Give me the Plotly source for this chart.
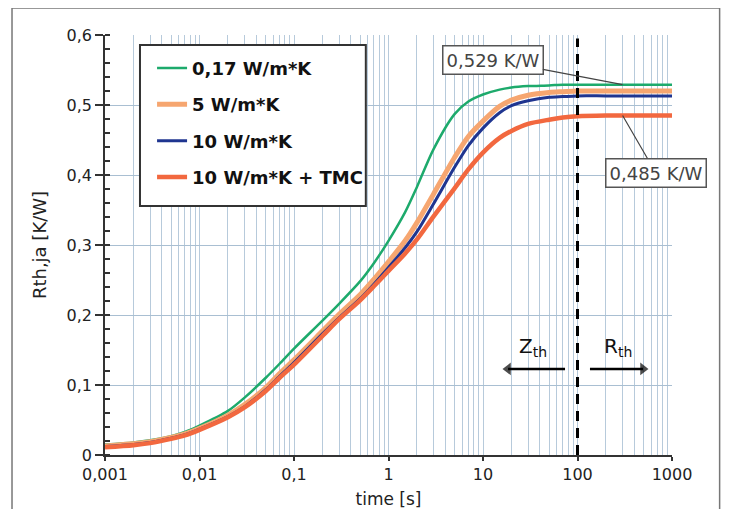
import math
import plotly.graph_objects as go

# ---- data ----
time_s = [0.001, 0.002, 0.003, 0.005, 0.007, 0.01, 0.02, 0.03, 0.05, 0.07, 0.1, 0.2, 0.3, 0.5, 0.7,
          1, 1.5, 2, 3, 5, 7, 10, 15, 20, 30, 50, 70, 100, 200, 500, 1000]
r_017 = [0.015, 0.018, 0.021, 0.027, 0.033, 0.042, 0.063, 0.082, 0.110, 0.130, 0.152, 0.192, 0.216, 0.248, 0.274,
         0.306, 0.347, 0.383, 0.437, 0.487, 0.505, 0.515, 0.522, 0.525, 0.527, 0.528, 0.529, 0.529, 0.529, 0.529, 0.529]
r_5 = [0.013, 0.016, 0.019, 0.025, 0.030, 0.038, 0.057, 0.072, 0.096, 0.116, 0.136, 0.177, 0.201, 0.229, 0.251,
       0.276, 0.306, 0.332, 0.373, 0.425, 0.455, 0.477, 0.498, 0.507, 0.514, 0.518, 0.519, 0.520, 0.520, 0.520, 0.520]
r_10 = [0.012, 0.015, 0.018, 0.024, 0.029, 0.037, 0.055, 0.069, 0.093, 0.112, 0.132, 0.173, 0.196, 0.223, 0.244,
        0.268, 0.296, 0.319, 0.359, 0.411, 0.442, 0.467, 0.489, 0.499, 0.506, 0.511, 0.512, 0.513, 0.513, 0.513, 0.513]
r_tmc = [0.011, 0.014, 0.017, 0.023, 0.028, 0.036, 0.054, 0.068, 0.091, 0.110, 0.129, 0.170, 0.194, 0.221, 0.241,
         0.263, 0.288, 0.308, 0.341, 0.381, 0.408, 0.432, 0.453, 0.463, 0.473, 0.479, 0.482, 0.484, 0.485, 0.485, 0.485]

series_names = ["0,17 W/m*K", "5 W/m*K", "10 W/m*K", "10 W/m*K + TMC"]
series_colors = ["#1daa6c", "#f6a670", "#1f3590", "#f2683f"]
series_widths = [2.5, 5, 3, 4.5]

x_tick_vals = [0.001, 0.01, 0.1, 1, 10, 100, 1000]
x_tick_text = ["0,001", "0,01", "0,1", "1", "10", "100", "1000"]
y_tick_vals = [0, 0.1, 0.2, 0.3, 0.4, 0.5, 0.6]

boundary_t = 100          # Zth / Rth boundary
label_t = 300             # where the value callouts touch the curves
label_hi = "0,529 K/W"
label_lo = "0,485 K/W"
zth_arrow_t = [73.8, 18.4]    # tail -> head
rth_arrow_t = [135.5, 493]    # tail -> head
arrow_level = 0.123

FONT = "DejaVu Sans"
GRID = "#b7cadb"
AX = "#333333"

minor_vals = [k * 10 ** e for e in range(-3, 3) for k in range(2, 10)]

fig = go.Figure()
for name, ys, col, w in zip(series_names, [r_017, r_5, r_10, r_tmc], series_colors, series_widths):
    fig.add_trace(go.Scatter(x=time_s, y=ys, mode="lines", name=name, legendgroup=name,
                             line=dict(color=col, width=w, shape="spline", smoothing=0.8)))

# dashed boundary line at 100 s
fig.add_trace(go.Scatter(x=[boundary_t, boundary_t], y=[0, 0.595], mode="lines", showlegend=False,
                         line=dict(color="black", width=3, dash="10px,7px"), hoverinfo="skip"))

# Zth / Rth arrows
for xs, head in ((zth_arrow_t, "triangle-left"), (rth_arrow_t, "triangle-right")):
    fig.add_trace(go.Scatter(x=xs, y=[arrow_level, arrow_level], mode="lines+markers", showlegend=False,
                             hoverinfo="skip", line=dict(color="black", width=2.5),
                             marker=dict(symbol=["circle", head], size=[0, 11], color="black",
                                         line=dict(width=0))))

fig.update_layout(
    width=714, height=501,
    margin=dict(l=97, r=50, t=27, b=54, autoexpand=False),
    paper_bgcolor="white", plot_bgcolor="white",
    separators=", ",
    font=dict(family=FONT, size=16, color="#222"),
    showlegend=True,
    legend=dict(x=0.083, y=0.965, xanchor="left", yanchor="top",
                bgcolor="rgba(0,0,0,0)", borderwidth=0,
                font=dict(family=FONT, size=18, color="#111", weight="bold"),
                tracegroupgap=10, itemwidth=30),
    xaxis=dict(type="log", range=[-3, 3], tickmode="array", tickvals=x_tick_vals, ticktext=x_tick_text,
               automargin=False,
               showgrid=True, gridcolor=GRID, gridwidth=1,
               showline=True, linecolor=AX, linewidth=1.5,
               ticks="outside", ticklen=4, tickwidth=1.5, tickcolor=AX,
               minor=dict(tickmode="array", tickvals=minor_vals, showgrid=True, gridcolor=GRID, gridwidth=1, ticks=""),
               title=dict(text="time [s]", font=dict(size=17), standoff=12),
               zeroline=False, tickfont=dict(size=16)),
    yaxis=dict(range=[0, 0.6], tickmode="array", tickvals=y_tick_vals,
               automargin=False,
               showgrid=True, gridcolor="#a9bfd2", gridwidth=1,
               showline=True, linecolor=AX, linewidth=1.5,
               ticks="outside", ticklen=8, tickwidth=1.5, tickcolor=AX,
               minor=dict(dtick=0.02, ticks="inside", ticklen=5, tickcolor=AX, showgrid=False),
               title=dict(text="Rth,ja [K/W]", font=dict(size=18), standoff=15),
               zeroline=False, tickfont=dict(size=16)),
)

# outer frame of the figure
fig.add_shape(type="rect", xref="paper", yref="paper", x0=-0.164, x1=1.084, y0=-0.3, y1=1.064,
              line=dict(color="#777", width=1.5), layer="below")
# legend box
fig.add_shape(type="rect", xref="paper", yref="paper", x0=0.0617, x1=0.460, y0=0.593, y1=0.976,
              line=dict(color="#333", width=2), fillcolor="white", layer="above")

# value callouts
fig.add_annotation(x=math.log10(label_t), y=r_017[-1], text=label_hi, showarrow=True, arrowhead=0,
                   arrowwidth=1.2, arrowcolor="#444", ax=-130, ay=-25,
                   bordercolor="#555", borderwidth=1.5, borderpad=3, bgcolor="white",
                   font=dict(size=18, color="#444"))
fig.add_annotation(x=math.log10(label_t), y=r_tmc[-1], text=label_lo, showarrow=True, arrowhead=0,
                   arrowwidth=1.2, arrowcolor="#444", ax=33, ay=57,
                   bordercolor="#555", borderwidth=1.5, borderpad=3, bgcolor="white",
                   font=dict(size=18, color="#444"))

# Zth / Rth labels
fig.add_annotation(x=1.529, y=0.155, text="Z<sub>th</sub>", showarrow=False,
                   font=dict(size=20, color="#111"))
fig.add_annotation(x=2.429, y=0.155, text="R<sub>th</sub>", showarrow=False,
                   font=dict(size=20, color="#111"))

fig.write_html("out.html")
